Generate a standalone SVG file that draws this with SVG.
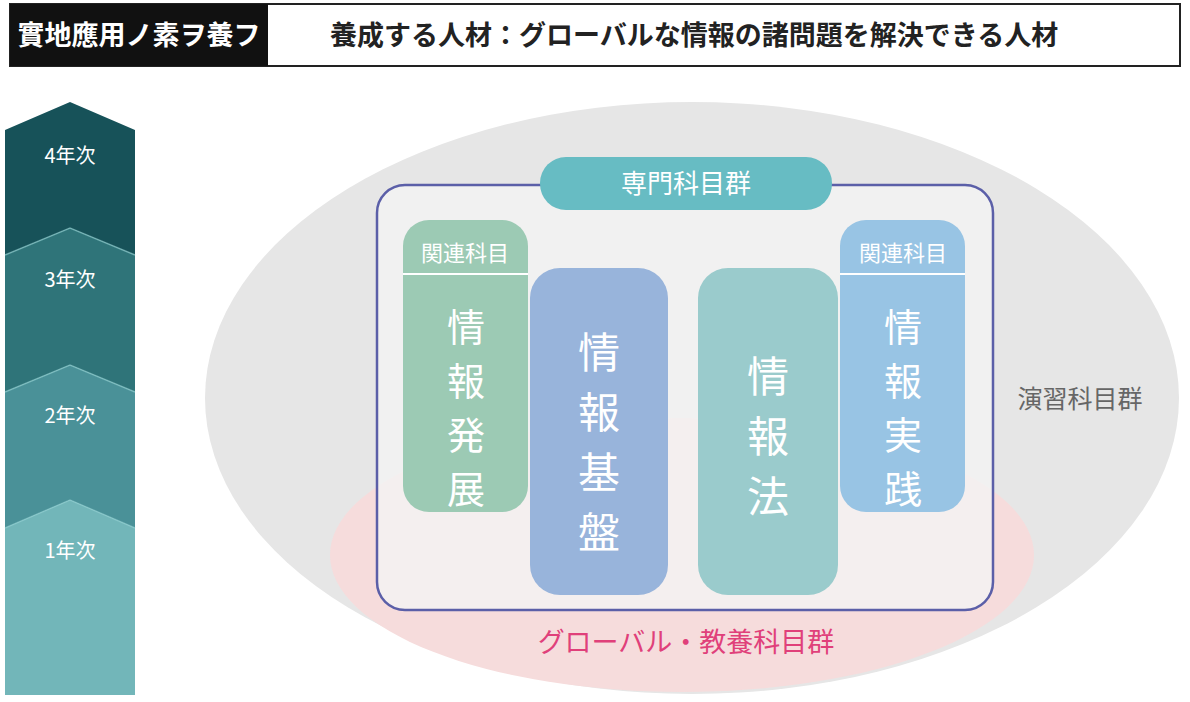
<svg xmlns="http://www.w3.org/2000/svg" width="1190" height="702" viewBox="0 0 1190 702">
<style>
text{font-family:"Noto Sans CJK JP","Noto Sans",sans-serif}
.yr{fill:#fff;font-size:20px;text-anchor:middle}
.big{fill:#fff;font-size:42px;text-anchor:middle}
.mid{fill:#fff;font-size:38px;text-anchor:middle}
.sm{fill:#fff;font-size:22px;text-anchor:middle}
.edge{fill:none;stroke:#8fd0d2;stroke-width:1.5;stroke-opacity:.6}
</style>
<rect width="1190" height="702" fill="#fff"/>
<g id="header">
<rect x="10" y="4" width="1170" height="62" fill="#fff" stroke="#222" stroke-width="2"/>
<rect x="10" y="4" width="258" height="62" fill="#111"/>
<text x="139" y="45" fill="#fff" font-size="27" text-anchor="middle" font-weight="bold">實地應用ノ素ヲ養フ</text>
<text x="330" y="45" fill="#222" font-size="27" font-weight="bold">養成する人材：グローバルな情報の諸問題を解決できる人材</text>
</g>
<g id="years">
<path d="M5 695V528L70 500L135 528V695Z" fill="#72b6b9"/>
<path d="M5 528V392L70 365L135 392V528L70 500Z" fill="#4a9198"/>
<path d="M5 392V255L70 228L135 255V392L70 365Z" fill="#2f7479"/>
<path d="M5 255V130L70 102L135 130V255L70 228Z" fill="#175259"/>
<path class="edge" d="M5 528L70 500L135 528M5 392L70 365L135 392M5 255L70 228L135 255"/>
<text class="yr" x="70" y="163">4年次</text>
<text class="yr" x="70" y="287">3年次</text>
<text class="yr" x="70" y="423">2年次</text>
<text class="yr" x="70" y="558">1年次</text>
</g>
<g id="enshu">
<ellipse cx="692" cy="398" rx="487" ry="296" fill="#e6e6e6"/>
<text x="1080" y="408" fill="#666" font-size="25" text-anchor="middle">演習科目群</text>
</g>
<g id="global">
<ellipse cx="682" cy="555" rx="352" ry="137" fill="#f6dcdc"/>
<text x="686" y="652" fill="#e0407a" font-size="27" text-anchor="middle">グローバル・教養科目群</text>
</g>
<g id="senmon">
<rect x="377" y="185" width="616" height="425" rx="28" fill="#f4f4f4" fill-opacity=".8" stroke="#5b5fa8" stroke-width="2.5"/>
<rect x="540" y="157" width="292" height="53" rx="26" fill="#67bcc3"/>
<text x="686" y="193" fill="#fff" font-size="26" text-anchor="middle">専門科目群</text>
</g>
<g id="hatten">
<rect x="403" y="220" width="125" height="292" rx="26" fill="#9ccab4"/>
<line x1="403" y1="274" x2="528" y2="274" stroke="#fff" stroke-width="2"/>
<text class="sm" x="465" y="261">関連科目</text>
<text class="mid" x="466" y="341">情</text><text class="mid" x="466" y="395">報</text><text class="mid" x="466" y="449">発</text><text class="mid" x="466" y="503">展</text>
</g>
<g id="kiban">
<rect x="530" y="268" width="138" height="327" rx="30" fill="#98b4db"/>
<text class="big" x="599" y="368">情</text><text class="big" x="599" y="428">報</text><text class="big" x="599" y="488">基</text><text class="big" x="599" y="548">盤</text>
</g>
<g id="hou">
<rect x="698" y="268" width="140" height="327" rx="30" fill="#9acbcc"/>
<text class="big" x="768" y="392">情</text><text class="big" x="768" y="452">報</text><text class="big" x="768" y="512">法</text>
</g>
<g id="jissen">
<rect x="840" y="220" width="125" height="292" rx="26" fill="#98c4e4"/>
<line x1="840" y1="274" x2="965" y2="274" stroke="#fff" stroke-width="2"/>
<text class="sm" x="903" y="261">関連科目</text>
<text class="mid" x="903" y="341">情</text><text class="mid" x="903" y="395">報</text><text class="mid" x="903" y="449">実</text><text class="mid" x="903" y="503">践</text>
</g>
<g id="connectors"/>
</svg>
